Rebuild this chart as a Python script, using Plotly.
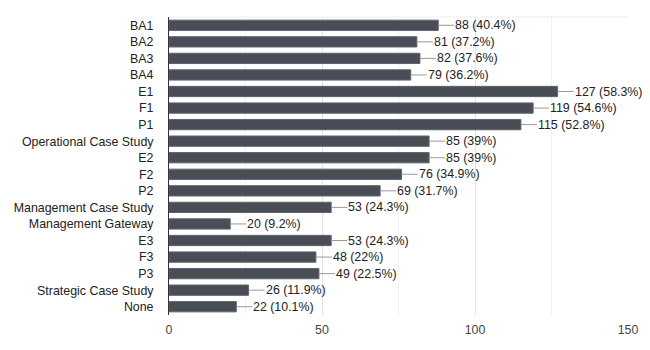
import plotly.graph_objects as go

categories = ["BA1", "BA2", "BA3", "BA4", "E1", "F1", "P1", "Operational Case Study",
              "E2", "F2", "P2", "Management Case Study", "Management Gateway",
              "E3", "F3", "P3", "Strategic Case Study", "None"]
counts = [88, 81, 82, 79, 127, 119, 115, 85, 85, 76, 69, 53, 20, 53, 48, 49, 26, 22]
percents = ["40.4%", "37.2%", "37.6%", "36.2%", "58.3%", "54.6%", "52.8%", "39%",
            "39%", "34.9%", "31.7%", "24.3%", "9.2%", "24.3%", "22%", "22.5%", "11.9%", "10.1%"]
x_ticks = [0, 50, 100, 150]
minor_ticks = [25, 75, 125]

FONT = "Liberation Sans, Arial, sans-serif"
FS = 12.4

fig = go.Figure()
fig.add_trace(go.Bar(
    x=counts, y=categories, orientation="h",
    marker=dict(color="#484d56", line=dict(color="#5e636b", width=1)),
    hoverinfo="skip",
))

for c, v, p in zip(categories, counts, percents):
    fig.add_annotation(
        x=v, y=c, xref="x", yref="y",
        text=f"{v} ({p})", showarrow=True, arrowhead=0, arrowwidth=1,
        arrowcolor="#999999", ax=16, ay=0, xanchor="left", yanchor="middle",
        borderpad=0, standoff=0,
        font=dict(family=FONT, size=FS, color="#222222"),
    )

for m in minor_ticks:
    fig.add_shape(type="line", xref="x", yref="paper", x0=m, x1=m, y0=0, y1=1,
                  line=dict(color="#f2f2f2", width=1), layer="below")
fig.add_shape(type="line", xref="paper", yref="paper", x0=0, x1=1, y0=1, y1=1,
              line=dict(color="#ececec", width=1), layer="below")

fig.update_layout(
    width=650, height=350,
    margin=dict(l=169, r=19, t=17, b=35),
    paper_bgcolor="white", plot_bgcolor="white",
    bargap=0.38,
    showlegend=False,
    font=dict(family=FONT, size=FS, color="#222222"),
    xaxis=dict(range=[0, 150], tickvals=x_ticks, showgrid=True, gridcolor="#e4e4e4",
               zeroline=False, showline=False, ticks="", ticklabelstandoff=6,
               tickfont=dict(size=FS, color="#444444"), fixedrange=True),
    yaxis=dict(autorange="reversed", showgrid=False, showline=True, linecolor="#333333",
               linewidth=1, ticks="", ticklabelstandoff=12,
               tickfont=dict(size=FS, color="#222222"), fixedrange=True),
)

fig.write_html("out.html")
